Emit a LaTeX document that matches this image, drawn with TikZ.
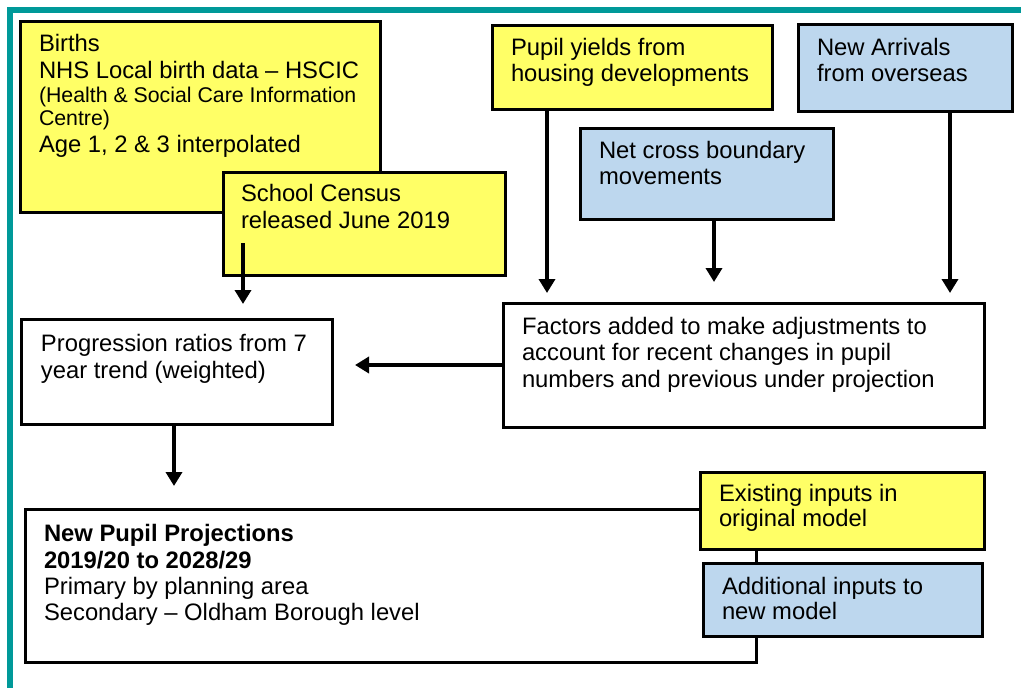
\documentclass[tikz,border=0pt]{standalone}
\usepackage{fontspec}
\setmainfont{Liberation Sans}
\usetikzlibrary{arrows.meta}
\definecolor{boxyellow}{HTML}{FFFF66}
\definecolor{boxblue}{HTML}{BDD7EE}
\definecolor{frameteal}{HTML}{009999}
\newcommand\bigfs{\fontsize{23.8}{26.5}\selectfont}
\newcommand\smallfs{\fontsize{21.3}{22.3}\selectfont}
\begin{document}
\begin{tikzpicture}[x=1pt,y=-1pt,
  box/.style={draw=black, line width=3pt, inner sep=0pt, outer sep=0pt, anchor=north west},
  ybox/.style={box, fill=boxyellow},
  bbox/.style={box, fill=boxblue},
  wbox/.style={box, fill=white},
  txt/.style={anchor=north west, inner sep=0pt, outer sep=0pt, align=left, font=\bigfs},
  arr/.style={line width=4.5pt, -{Triangle[width=16pt,length=14pt]}}
]
\useasboundingbox (0,0) rectangle (1021,688);
% frame
\draw[frameteal, line width=6pt] (9.5,688) -- (9.5,9.5) -- (1021,9.5);

% boxes
\node[ybox, minimum width=360pt, minimum height=191pt] (births) at (20,21) {};
\node[txt] (birthstxt) at (39,34.6) {Births\\NHS Local birth data -- HSCIC\\[-2.1pt]{\smallfs(Health \& Social Care Information}\\[-4.2pt]{\smallfs Centre)}\\[1.2pt]Age 1, 2 \& 3 interpolated};

\node[ybox, minimum width=282pt, minimum height=103pt] (census) at (223,172) {};
\node[txt] (censustxt) at (241,184.6) {School Census\\released June 2019};

\node[ybox, minimum width=280pt, minimum height=84pt] (pupil) at (492,25) {};
\node[txt] (pupiltxt) at (511,37.9) {Pupil yields from\\housing developments};

\node[bbox, minimum width=214pt, minimum height=87pt] (newarr) at (798,24) {};
\node[txt] (newarrtxt) at (817,37.9) {New Arrivals\\from overseas};

\node[bbox, minimum width=253pt, minimum height=91pt] (net) at (580,128) {};
\node[txt] (nettxt) at (599,140.9) {Net cross boundary\\movements};

\node[wbox, minimum width=481pt, minimum height=124pt] (factors) at (503,303) {};
\node[txt] (factorstxt) at (522,316.9) {Factors added to make adjustments to\\account for recent changes in pupil\\numbers and previous under projection};

\node[wbox, minimum width=311pt, minimum height=105pt] (prog) at (21,319) {};
\node[txt] (progtxt) at (41,334.6) {Progression ratios from 7\\year trend (weighted)};

\node[wbox, minimum width=731pt, minimum height=153pt] (newpupil) at (25,509) {};
\node[txt] (newpupiltxt) at (44,523.9) {\textbf{New Pupil Projections}\\[0.8pt]\textbf{2019/20 to 2028/29}\\[-0.5pt]Primary by planning area\\[-0.7pt]Secondary -- Oldham Borough level};

\node[ybox, minimum width=284pt, minimum height=77pt] (existing) at (700,472) {};
\node[txt] (existingtxt) at (719,484.6) {Existing inputs in\\[-1.5pt]original model};

\node[bbox, minimum width=279pt, minimum height=73pt] (additional) at (703,563) {};
\node[txt] (additionaltxt) at (722,576.9) {Additional inputs to\\[-1.5pt]new model};

% arrows
\draw[arr, shorten >=15pt] ([shift={(20,-32)}]census.south west) -- (prog.north -| 243,0);
\draw[arr, shorten >=10pt] (pupil.south -| 547,0) -- (factors.north -| 547,0);
\draw[arr, shorten >=21pt] (net.south -| 714,0) -- (factors.north -| 714,0);
\draw[arr, shorten >=10pt] (newarr.south -| 950,0) -- (factors.north -| 950,0);
\draw[arr, shorten >=23pt] (factors.west |- 0,365) -- (prog.east |- 0,365);
\draw[arr, shorten >=23pt] (prog.south -| 174,0) -- (newpupil.north -| 174,0);
\end{tikzpicture}
\end{document}
